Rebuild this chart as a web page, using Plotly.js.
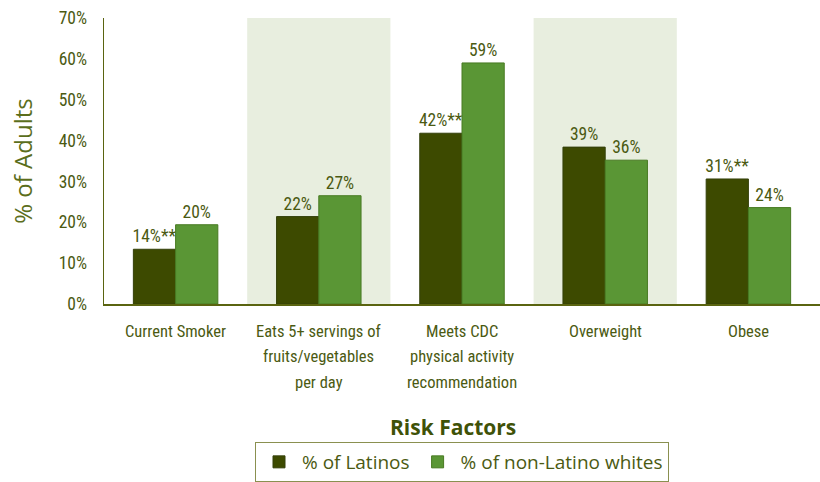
<!DOCTYPE html>
<html>
<head>
<meta charset="utf-8">
<script src="https://cdn.plot.ly/plotly-3.0.1.min.js"></script>
<style>html,body{margin:0;padding:0;background:#fff;}#chart{width:820px;height:482px;}</style>
</head>
<body>
<div id="chart"></div>
<script>
const categories = [
  "Current Smoker",
  "Eats 5+ servings of<br>fruits/vegetables<br>per day",
  "Meets CDC<br>physical activity<br>recommendation",
  "Overweight",
  "Obese"
];
const latinoValues = [13.4, 21.4, 41.8, 38.4, 30.6];
const whiteValues = [19.4, 26.5, 59.0, 35.2, 23.6];
const latinoLabels = ["14%**", "22%", "42%**", "39%", "31%**"];
const whiteLabels = ["20%", "27%", "59%", "36%", "24%"];
const shadedIndices = [1, 3];
const yTickVals = [0, 10, 20, 30, 40, 50, 60, 70];
const yTickText = yTickVals.map(v => v + "%");

const olive = "#4b5a12";
const condensed = "'Roboto Condensed', 'Liberation Sans Narrow', 'Arial Narrow', Roboto, sans-serif";

const traces = [
  {
    type: "bar", name: "% of Latinos", x: categories, y: latinoValues,
    text: latinoLabels, textposition: "outside", constraintext: "none", cliponaxis: false,
    textfont: {family: condensed, size: 17.5, color: olive},
    marker: {color: "#3d4a00", line: {color: "#34400a", width: 1}}
  },
  {
    type: "bar", name: "% of non-Latino whites", x: categories, y: whiteValues,
    text: whiteLabels, textposition: "outside", constraintext: "none", cliponaxis: false,
    textfont: {family: condensed, size: 17.5, color: olive},
    marker: {color: "#5a9635", line: {color: "#487a22", width: 1}}
  }
];

const shapes = shadedIndices.map(i => ({
  type: "rect", xref: "x", yref: "paper", x0: i - 0.5, x1: i + 0.5, y0: 0, y1: 1,
  fillcolor: "#e8eedf", line: {width: 0}, layer: "below"
}));

// category labels, one annotation per line (to match the wide line spacing)
const catAnnotations = [];
categories.forEach((c, i) => {
  c.split("<br>").forEach((line, k) => {
    catAnnotations.push({
      text: line, xref: "x", yref: "paper", x: categories[i], y: 0,
      xanchor: "center", yanchor: "middle", yshift: -27 - 25.5 * k,
      showarrow: false, font: {family: condensed, size: 16.5, color: olive}
    });
  });
});

const layout = {
  width: 820, height: 482,
  margin: {l: 104, r: 0, t: 18, b: 177},
  paper_bgcolor: "#fff", plot_bgcolor: "rgba(0,0,0,0)",
  barmode: "group", bargap: 0.41, bargroupgap: 0,
  showlegend: true,
  shapes: shapes,
  xaxis: {
    range: [-0.5, 4.5], showgrid: false, zeroline: false,
    showline: true, linecolor: "#5a6410", linewidth: 1.5,
    ticks: "", showticklabels: false, fixedrange: true
  },
  yaxis: {
    range: [0, 70], tickmode: "array", tickvals: yTickVals, ticktext: yTickText,
    showgrid: false, zeroline: false, showline: true, linecolor: "#5a6410", linewidth: 1.5,
    ticks: "outside", ticklen: 12, tickcolor: "rgba(0,0,0,0)",
    tickfont: {family: condensed, size: 17.5, color: olive},
    title: {text: "% of Adults", font: {family: "'Open Sans', sans-serif", size: 24, color: "#5b6e1c"}, standoff: 19}
  },
  annotations: [
    {text: "<b>Risk Factors</b>", xref: "paper", yref: "paper", x: 0.487, y: -0.43, xanchor: "center", yanchor: "middle",
     showarrow: false, font: {family: "'Open Sans', sans-serif", size: 21, color: "#3f5208"}}
  ].concat(catAnnotations),
  legend: {
    orientation: "h", xref: "paper", yref: "paper", x: 0.5, xanchor: "center", y: -0.484, yanchor: "top",
    bordercolor: "#8a9050", borderwidth: 1, bgcolor: "#fff",
    font: {family: "'Open Sans', sans-serif", size: 19, color: olive},
    itemwidth: 36, traceorder: "normal"
  }
};

Plotly.newPlot("chart", traces, layout, {displayModeBar: false, staticPlot: true});
</script>
</body>
</html>
